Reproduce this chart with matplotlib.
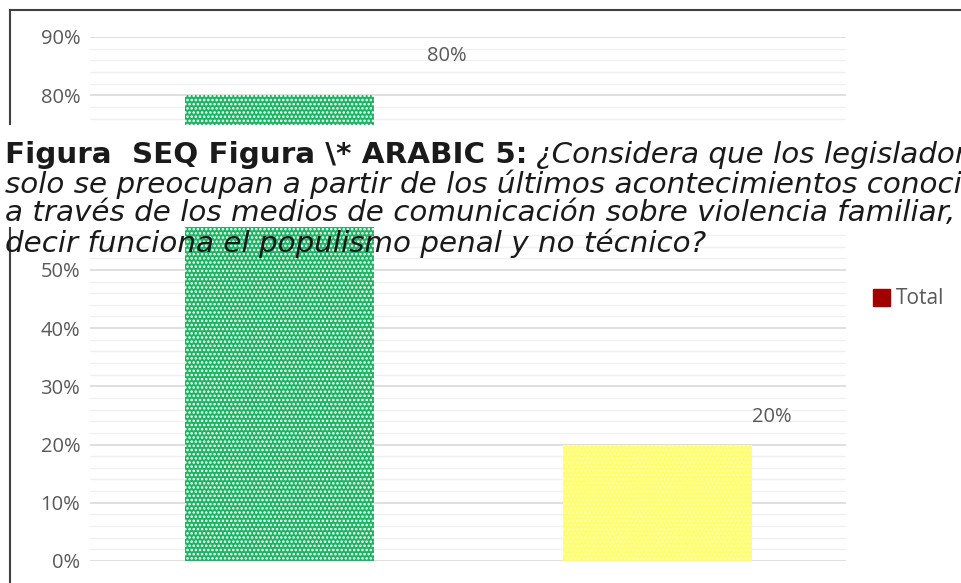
import matplotlib
matplotlib.use("Agg")
import matplotlib.pyplot as plt
from matplotlib.patches import Rectangle, Patch
from matplotlib.lines import Line2D
import numpy as np

# datos
categorias = ["Sí", "No"]
valores = [0.80, 0.20]
etiquetas = ["80%", "20%"]
colores = ["#1db464", "#ffff6e"]
puntos = ["white", "#ffffb0"]
desplaz = [(121, 28), (83, 20)]  # posicion de las etiquetas (pt)
ticks_y = [0.0, 0.1, 0.2, 0.3, 0.4, 0.5, 0.6, 0.7, 0.8, 0.9]

titulo_neg = "Figura  SEQ Figura \\* ARABIC 5:"
lineas = ["¿Considera que los legisladores",
          "solo se preocupan a partir de los últimos acontecimientos conocidos",
          "a través de los medios de comunicación sobre violencia familiar, es",
          "decir funciona el populismo penal y no técnico?"]

W, H = 961, 583
fig = plt.figure(figsize=(W / 100, H / 100), dpi=100)
ax = fig.add_axes([90 / W, 22 / H, 756 / W, 524 / H])

x = np.arange(len(categorias))
for i in range(len(valores)):
    plt.rcParams["hatch.color"] = puntos[i]
    plt.rcParams["hatch.linewidth"] = 1.2
    ax.bar(x[i], valores[i], width=0.5, color=colores[i], hatch="....",
           linewidth=0, zorder=3)
    ax.annotate(etiquetas[i], (x[i], valores[i]), xytext=desplaz[i],
                textcoords="offset points", ha="center", va="center",
                fontsize=14.5, color="#595959", family="Open Sans")

ax.set_xlim(-0.5, 1.5)
ax.set_ylim(0, 0.9)
ax.set_yticks(ticks_y)
ax.set_yticklabels([f"{int(round(t * 100))}%" for t in ticks_y])
ax.set_yticks(np.arange(0, 0.9, 0.02), minor=True)
ax.set_xticks([])
ax.tick_params(axis="y", which="both", length=0, labelsize=14.5,
               labelcolor="#595959", pad=7)
for lab in ax.get_yticklabels():
    lab.set_family("Open Sans")
ax.grid(axis="y", which="major", color="#d9d9d9", linewidth=1.2, zorder=0)
ax.grid(axis="y", which="minor", color="#f0f0f0", linewidth=1.0, zorder=0)
for s in ax.spines.values():
    s.set_visible(False)

ax.legend(handles=[Patch(facecolor="#a00000", edgecolor="#a00000")],
          labels=["Total"], loc="center left",
          bbox_to_anchor=(854 / W, 1 - 299 / H), bbox_transform=fig.transFigure,
          frameon=False, labelcolor="#595959",
          handlelength=0.85, handleheight=0.85, handletextpad=0.25,
          prop={"family": "Open Sans", "size": 15})

# marco
fig.add_artist(Line2D([10 / W, 1], [1 - 10 / H, 1 - 10 / H],
                      transform=fig.transFigure, color="#404040", lw=1.5))
fig.add_artist(Line2D([10 / W, 10 / W], [1 - 10 / H, 0],
                      transform=fig.transFigure, color="#404040", lw=1.5))

# leyenda de la figura superpuesta
fig.add_artist(Rectangle((0, 1 - 227 / H), 1, 102 / H,
                         transform=fig.transFigure, facecolor="white",
                         edgecolor="none", zorder=5))
fs = 21.2
fam = "DejaVu Sans"
neg = fig.text(5 / W, 1 - 155 / H, titulo_neg, fontsize=fs, weight="bold",
               family=fam, va="center", color="#1a1a1a", zorder=6)
fig.canvas.draw()
bb = neg.get_window_extent()
fig.text(bb.x1 / W + 9 / W, 1 - 155 / H, lineas[0], fontsize=fs, style="italic",
         family=fam, va="center", color="#1a1a1a", zorder=6)
ys = [184, 213, 243]
for y, t in zip(ys, lineas[1:]):
    fig.text(5 / W, 1 - y / H, t, fontsize=fs, style="italic",
             family=fam, va="center", color="#1a1a1a", zorder=6)

fig.savefig("out.png", dpi=100)
